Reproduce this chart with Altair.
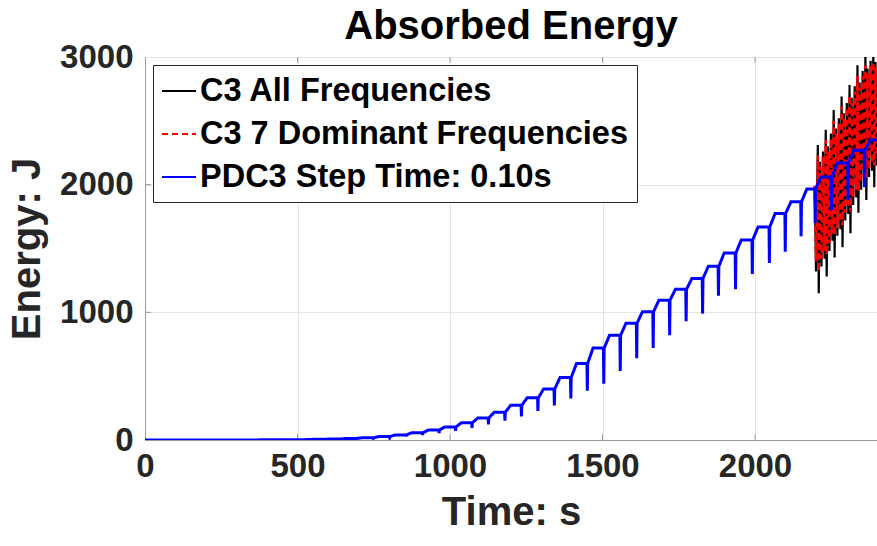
import altair as alt
import pandas as pd

# ---------------- data ----------------
SERIES = ["C3 All Frequencies", "C3 7 Dominant Frequencies", "PDC3 Step Time: 0.10s"]

# PDC3 (blue): quiet start, then one sharp downward spike per wave period
pdc_start_t = [0, 300, 450]
pdc_start_e = [0, 0.5, 1.5]
pdc_spike_t = [531, 585, 639, 693, 747, 801, 855, 909, 963, 1017, 1071, 1125, 1179, 1233,
               1287, 1341, 1395, 1449, 1503, 1557, 1611, 1665, 1719, 1773, 1827, 1879,
               1935, 1990, 2046, 2098, 2150, 2196, 2250, 2304, 2358]
pdc_plateau = [3, 5, 8, 12, 18, 27, 40, 57, 78, 102, 135, 172, 218, 272,
               330, 400, 490, 600, 720, 820, 915, 1005, 1095, 1180, 1265, 1360,
               1465, 1567, 1668, 1775, 1866, 1966, 2060, 2170, 2270]
pdc_bottom = [2, 3, 5, 8, 12, 19, 28, 40, 55, 72, 95, 122, 152, 185,
              228, 270, 325, 385, 440, 540, 640, 720, 820, 930, 990, 1130,
              1180, 1300, 1386, 1475, 1595, 1700, 1800, 1880, 1980]
pdc_end_t = 2400
pdc_end_e = 2350

# C3 (black) and C3 7 dominant frequencies (red dashed), from t = 2196 s
c3_t = [2196, 2200,
        2206, 2209, 2213, 2218, 2223, 2228,
        2232, 2235, 2239, 2244, 2249, 2254,
        2258, 2261, 2265, 2270, 2275, 2280,
        2284, 2287, 2291, 2296, 2301, 2306,
        2310, 2313, 2317, 2322, 2327, 2332,
        2336, 2339, 2343, 2348, 2353, 2358,
        2362, 2365, 2369, 2374, 2379, 2384,
        2388, 2391, 2395, 2400]
c3_all = [1990, 1320,
          2310, 1150, 2180, 1360, 2260, 1420,
          2430, 1280, 2300, 1480, 2400, 1560,
          2585, 1430, 2440, 1600, 2520, 1650,
          2690, 1510, 2560, 1720, 2640, 1770,
          2780, 1620, 2680, 1840, 2770, 1900,
          2935, 1780, 2800, 1960, 2890, 2010,
          3015, 1880, 2910, 2060, 2970, 2110,
          3040, 1980, 2960, 2150]
c3_dom = [1990, 1400,
          2230, 1320, 2140, 1420, 2220, 1480,
          2350, 1450, 2260, 1540, 2360, 1620,
          2500, 1600, 2400, 1660, 2480, 1710,
          2610, 1680, 2520, 1780, 2600, 1830,
          2700, 1790, 2640, 1900, 2730, 1960,
          2850, 1950, 2760, 2020, 2850, 2070,
          2935, 2050, 2870, 2120, 2930, 2170,
          2960, 2150, 2920, 2210]

x_ticks = [0, 500, 1000, 1500, 2000]
y_ticks = [0, 1000, 2000, 3000]

# ---------------- tables ----------------
rows = list(zip(pdc_start_t, pdc_start_e))
n = len(pdc_spike_t)
for k in range(n):
    t, p, b = pdc_spike_t[k], pdc_plateau[k], pdc_bottom[k]
    nxt = pdc_plateau[k + 1] if k + 1 < n else pdc_end_e
    rows += [(t, p), (t + 1.2, b), (t + 2.4, p), (t + 20, nxt)]
rows.append((pdc_end_t, pdc_end_e))
pdc_df = pd.DataFrame(rows, columns=["t", "e"])
pdc_df["series"] = SERIES[2]

c3a_df = pd.DataFrame({"t": c3_t, "e": c3_all, "series": SERIES[0]})
c3d_df = pd.DataFrame({"t": c3_t, "e": c3_dom, "series": SERIES[1]})

FONT = "Liberation Sans"
AXIS_GRAY = "#9a9a9a"

xscale = alt.Scale(domain=[0, 2400], nice=False, zero=False)
yscale = alt.Scale(domain=[0, 3000], nice=False)

color_scale = alt.Scale(domain=SERIES, range=["#000000", "#ff0000", "#0000ff"])
dash_scale = alt.Scale(domain=SERIES, range=[[1, 0], [6, 4], [1, 0]])
legend = alt.Legend(
    title=None, orient="none", legendX=8, legendY=8,
    fillColor="white", strokeColor="#262626", padding=8, cornerRadius=0,
    symbolType="stroke", symbolSize=1156, symbolStrokeWidth=2,
    labelFont=FONT, labelFontWeight="bold", labelFontSize=32.5, labelColor="#000000",
    labelOffset=3, rowPadding=8, labelLimit=600,
)

xax = alt.Axis(values=x_ticks, title="Time: s", grid=True, ticks=False, labelFlush=False,
               labelPadding=10, titlePadding=9, format="d")
yax = alt.Axis(values=y_ticks, title="Energy: J", grid=True, ticks=False, labelFlush=False,
               labelPadding=12, titlePadding=12, format="d")


def line_layer(df, width):
    return alt.Chart(df).mark_line(strokeWidth=width, clip=True).encode(
        x=alt.X("t:Q", scale=xscale, axis=xax),
        y=alt.Y("e:Q", scale=yscale, axis=yax),
        color=alt.Color("series:N", scale=color_scale, legend=legend),
        strokeDash=alt.StrokeDash("series:N", scale=dash_scale, legend=legend),
        order=alt.Order("t:Q"),
    )


black = line_layer(c3a_df, 2.2)
red = line_layer(c3d_df, 2.5)
blue = line_layer(pdc_df, 3)

# inward tick marks like the original axes
tick_len_y = 45
tick_len_x = 20
xt_df = pd.DataFrame({"t": x_ticks[1:]})
yt_df = pd.DataFrame({"e": y_ticks[1:3]})
bottom_ticks = alt.Chart(xt_df).mark_rule(color=AXIS_GRAY).encode(
    x=alt.X("t:Q", scale=xscale), y=alt.datum(0, scale=yscale), y2=alt.datum(tick_len_y))
top_ticks = alt.Chart(xt_df).mark_rule(color=AXIS_GRAY).encode(
    x=alt.X("t:Q", scale=xscale), y=alt.datum(3000 - tick_len_y, scale=yscale), y2=alt.datum(3000))
left_ticks = alt.Chart(yt_df).mark_rule(color=AXIS_GRAY).encode(
    y=alt.Y("e:Q", scale=yscale), x=alt.datum(0, scale=xscale), x2=alt.datum(tick_len_x))

chart = alt.layer(bottom_ticks, top_ticks, left_ticks, black, red, blue).properties(
    width=732, height=383,
    title=alt.TitleParams("Absorbed Energy", font=FONT, fontWeight="bold", fontSize=40,
                          color="#000000", anchor="middle", offset=-6),
    autosize=alt.AutoSizeParams(type="none"),
    padding={"left": 145, "top": 57, "right": 0, "bottom": 106},
    background="white",
).configure_view(
    stroke=AXIS_GRAY, strokeWidth=1
).configure_axis(
    labelFont=FONT, labelFontWeight="bold", labelFontSize=33, labelColor="#262626",
    titleFont=FONT, titleFontWeight="bold", titleFontSize=40, titleColor="#262626",
    domainColor=AXIS_GRAY, gridColor="#e4e4e4", gridWidth=1,
)

chart.save("out.html", embed_options={"renderer": "svg", "actions": False})
